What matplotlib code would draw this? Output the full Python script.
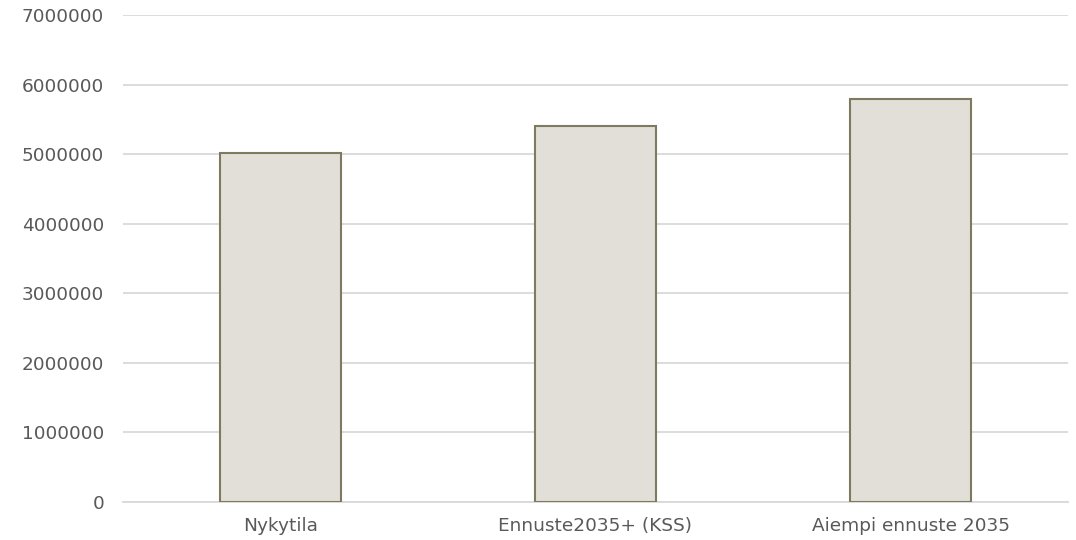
import matplotlib
matplotlib.use("Agg")
import matplotlib.pyplot as plt

categories = ["Nykytila", "Ennuste2035+ (KSS)", "Aiempi ennuste 2035"]
values = [5010000, 5405000, 5797000]
yticks = [0, 1000000, 2000000, 3000000, 4000000, 5000000, 6000000, 7000000]

plt.rcParams['font.family'] = ['DejaVu Sans']
fig = plt.figure(figsize=(10.76, 5.40), dpi=100)
ax = fig.add_axes([123/1076, 1-502/540, (1068-123)/1076, (502-15)/540])

x = list(range(len(categories)))
ax.bar(x, values, width=0.387, color="#E2DFD8", edgecolor="#7E7A5F", linewidth=1.5, zorder=3)
ax.set_xlim(-0.5, len(categories)-0.5)
ax.set_ylim(0, 7000000)
ax.set_yticks(yticks)
ax.set_yticklabels([str(v) for v in yticks])
ax.set_xticks(x)
ax.set_xticklabels(categories)
ax.yaxis.grid(True, color="#D9D9D9", linewidth=1.3, zorder=0)
for s in ["top", "right", "left"]:
    ax.spines[s].set_visible(False)
ax.spines["bottom"].set_color("#D9D9D9")
ax.spines["bottom"].set_linewidth(1.3)
ax.tick_params(axis="both", length=0, labelsize=13.3, colors="#595959")
ax.tick_params(axis="y", pad=13.5)
ax.tick_params(axis="x", pad=10.5)

fig.savefig("out.png", dpi=100)
